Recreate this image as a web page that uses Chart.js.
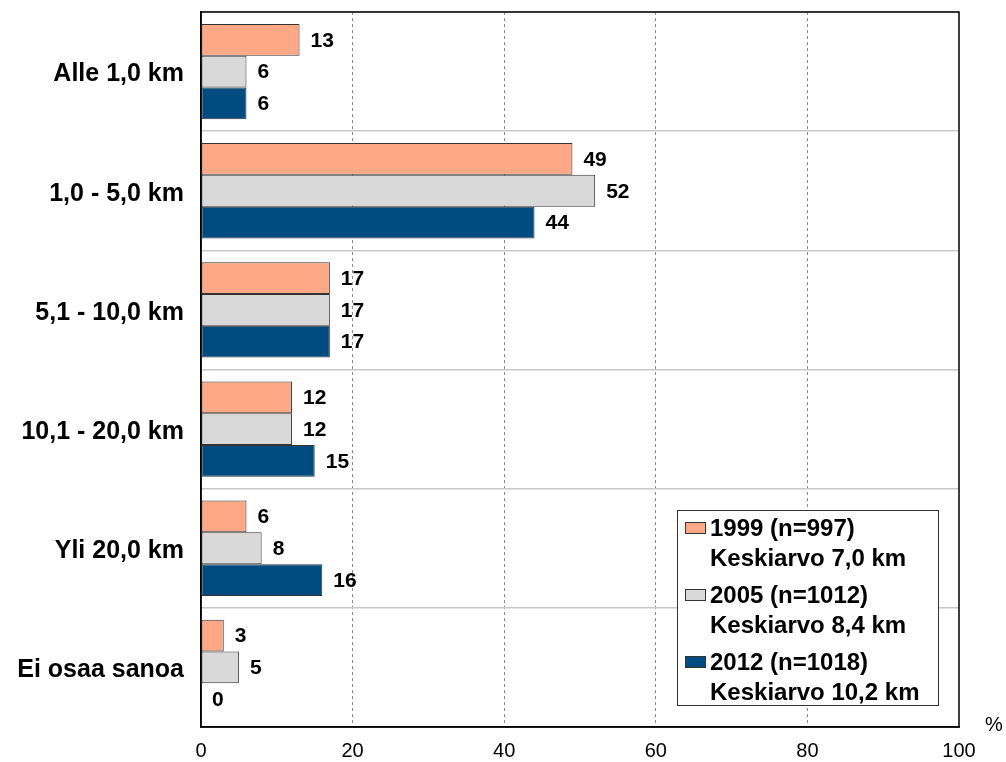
<!DOCTYPE html>
<html>
<head>
<meta charset="utf-8">
<script src="https://cdn.jsdelivr.net/npm/chart.js@4.4.1/dist/chart.umd.min.js"></script>
<style>
  html, body { margin: 0; padding: 0; background: #fff; }
  #wrap { width: 1006px; height: 762px; }
</style>
</head>
<body>
<div id="wrap"><canvas id="chart" width="1006" height="762"></canvas></div>
<script>
// Categories and series
const categories = ['Alle 1,0 km', '1,0 - 5,0 km', '5,1 - 10,0 km', '10,1 - 20,0 km', 'Yli 20,0 km', 'Ei osaa sanoa'];
const values1999 = [13, 49, 17, 12, 6, 3];
const values2005 = [6, 52, 17, 12, 8, 5];
const values2012 = [6, 44, 17, 15, 16, 0];
const seriesLabels = [
    ['1999 (n=997)', 'Keskiarvo 7,0 km'],
    ['2005 (n=1012)', 'Keskiarvo 8,4 km'],
    ['2012 (n=1018)', 'Keskiarvo 10,2 km']
];
const xTicks = [0, 20, 40, 60, 80, 100];

const FONT = 'Arial, "Liberation Sans", sans-serif';

// Value labels next to each bar
const barLabels = {
    id: 'barLabels',
    afterDatasetsDraw(chart) {
        const ctx = chart.ctx;
        ctx.save();
        ctx.font = 'bold 21px ' + FONT;
        ctx.fillStyle = '#000';
        ctx.textAlign = 'left';
        ctx.textBaseline = 'middle';
        chart.data.datasets.forEach((ds, i) => {
            chart.getDatasetMeta(i).data.forEach((bar, j) => {
                ctx.fillText(String(ds.data[j]), bar.x + 11, bar.y + 1);
            });
        });
        ctx.restore();
    }
};

// Frame, legend box and "%" label
const extras = {
    id: 'extras',
    afterDraw(chart) {
        const ctx = chart.ctx;
        const a = chart.chartArea;
        ctx.save();
        ctx.strokeStyle = '#000';
        ctx.lineWidth = 1.5;
        ctx.strokeRect(a.left, a.top, a.right - a.left, a.bottom - a.top);

        ctx.font = '20px ' + FONT;
        ctx.fillStyle = '#000';
        ctx.textAlign = 'center';
        ctx.textBaseline = 'middle';
        ctx.fillText('%', 994, 725);

        // legend
        const lx = 677, ly = 510, lw = 261, lh = 195;
        ctx.fillStyle = '#fff';
        ctx.fillRect(lx, ly, lw, lh);
        ctx.strokeStyle = '#333';
        ctx.lineWidth = 1;
        ctx.strokeRect(lx + 0.5, ly + 0.5, lw, lh);
        ctx.font = 'bold 24px ' + FONT;
        ctx.textAlign = 'left';
        chart.data.datasets.forEach((ds, i) => {
            const y = 528 + i * 67;
            ctx.fillStyle = ds.backgroundColor;
            ctx.fillRect(685.5, y - 5.5, 20, 11);
            ctx.strokeStyle = '#333';
            ctx.strokeRect(685.5, y - 5.5, 20, 11);
            ctx.fillStyle = '#000';
            seriesLabels[i].forEach((line, k) => {
                ctx.fillText(line, 710, y + k * 30 + 1);
            });
        });
        ctx.restore();
    }
};

const mkDataset = (label, data, color) => ({
    label: label,
    data: data,
    backgroundColor: color,
    borderColor: '#333',
    borderWidth: 1,
    borderSkipped: false,
    categoryPercentage: 0.8,
    barPercentage: 1.0
});

new Chart(document.getElementById('chart'), {
    type: 'bar',
    data: {
        labels: categories,
        datasets: [
            mkDataset(seriesLabels[0][0], values1999, '#FFA886'),
            mkDataset(seriesLabels[1][0], values2005, '#D9D9D9'),
            mkDataset(seriesLabels[2][0], values2012, '#004C80')
        ]
    },
    options: {
        indexAxis: 'y',
        responsive: false,
        animation: false,
        layout: { padding: { top: 12, right: 47, left: 0, bottom: 0 } },
        plugins: {
            legend: { display: false },
            tooltip: { enabled: false }
        },
        scales: {
            x: {
                min: 0,
                max: 100,
                afterBuildTicks(scale) {
                    scale.ticks = xTicks.map(v => ({ value: v }));
                },
                afterFit(scale) {
                    scale.height = 35;
                    scale.paddingLeft = 0;
                    scale.paddingRight = 0;
                },
                grid: {
                    color: ctx => (ctx.tick && (ctx.tick.value === 0 || ctx.tick.value === 100)) ? 'rgba(0,0,0,0)' : '#8c8c8c',
                    drawTicks: false,
                    lineWidth: 1
                },
                border: { display: true, color: '#000', width: 1.5, dash: [3, 3] },
                ticks: {
                    color: '#000',
                    padding: 12,
                    font: { family: FONT, size: 20 }
                }
            },
            y: {
                afterFit(scale) {
                    scale.width = 201;
                    scale.paddingTop = 0;
                    scale.paddingBottom = 0;
                },
                grid: {
                    offset: true,
                    color: '#c8c8c8',
                    drawTicks: false,
                    lineWidth: 1.5
                },
                border: { display: true, color: '#000', width: 1.5 },
                ticks: {
                    color: '#000',
                    padding: 17,
                    labelOffset: 3,
                    font: { family: FONT, size: 25, weight: 'bold' }
                }
            }
        }
    },
    plugins: [barLabels, extras]
});
</script>
</body>
</html>
